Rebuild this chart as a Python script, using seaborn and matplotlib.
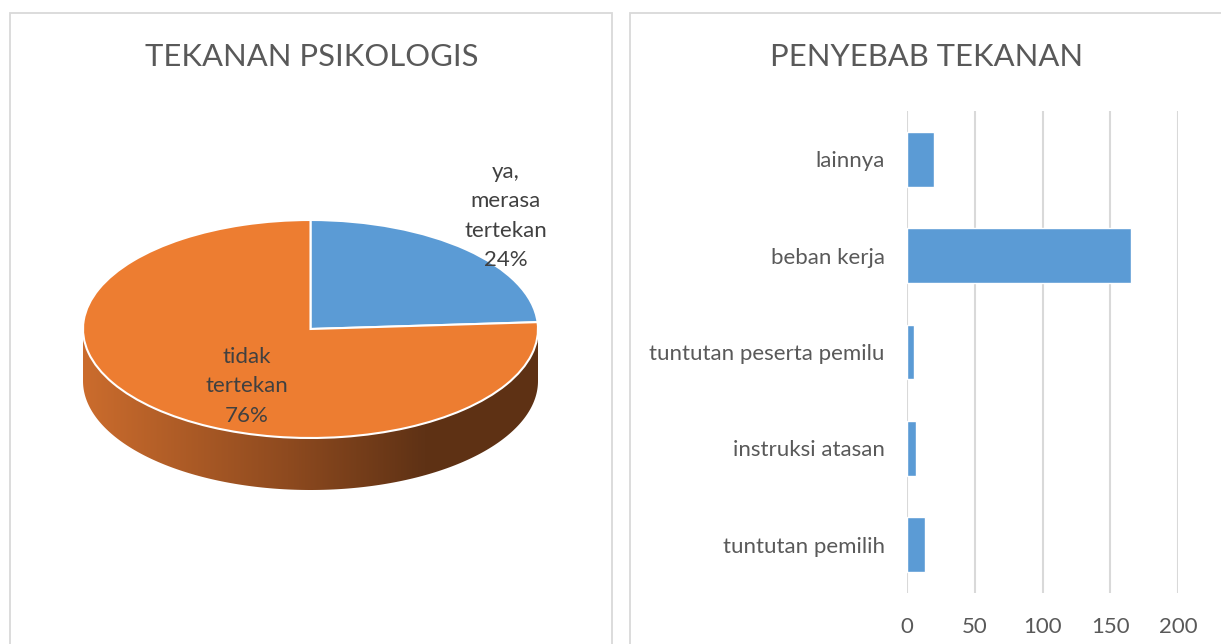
import numpy as np
import matplotlib
matplotlib.use("Agg")
import matplotlib.pyplot as plt
import seaborn as sns
import pandas as pd
from matplotlib.patches import Polygon, Rectangle
from matplotlib.colors import LinearSegmentedColormap

# ---------------- data ----------------
pie_title = "TEKANAN PSIKOLOGIS"
pie_labels = ["ya,\nmerasa\ntertekan", "tidak\ntertekan"]
pie_values = [24, 76]
pie_colors = ["#5b9bd5", "#ed7d31"]

bar_title = "PENYEBAB TEKANAN"
bar_categories = ["lainnya", "beban kerja", "tuntutan peserta pemilu",
                  "instruksi atasan", "tuntutan pemilih"]
bar_values = [20, 165, 5, 7, 13]
bar_ticks = [0, 50, 100, 150, 200]

sns.set_theme(style="white")
plt.rcParams['font.family'] = ['Lato', 'DejaVu Sans']

W, H = 1221, 644
fig = plt.figure(figsize=(W / 100, H / 100), dpi=100)
fig.patch.set_facecolor("white")

# panel borders
border = "#d9d9d9"
fig.patches.append(Rectangle((9.5 / W, -0.05), (612 - 9.5) / W, 1.05 - 12.5 / H,
                             transform=fig.transFigure, fill=False,
                             edgecolor=border, linewidth=1.3))
fig.patches.append(Rectangle((629.5 / W, -0.05), 1.0, 1.05 - 12.5 / H,
                             transform=fig.transFigure, fill=False,
                             edgecolor=border, linewidth=1.3))

# ---------------- pie (pseudo 3D) ----------------
cx, cy, rx, ry, depth_px = 310.5, 329, 227.5, 109, 52
axp = fig.add_axes([0, 0, 620 / W, 1])
wedges, _ = axp.pie(pie_values, startangle=90, counterclock=False,
                    colors=pie_colors, radius=1,
                    wedgeprops=dict(edgecolor="white", linewidth=1.5))
for w in wedges:
    w.set_zorder(3)
axp.set_aspect("auto")
axp.axis("off")

d = depth_px / ry
t = np.linspace(np.pi, 2 * np.pi, 200)
upper = np.column_stack([np.cos(t), np.sin(t)])
lower = np.column_stack([np.cos(t[::-1]), np.sin(t[::-1]) - d])
side = Polygon(np.vstack([upper, lower]), closed=True, facecolor="none",
               edgecolor="none", zorder=1)
axp.add_patch(side)
cmap = LinearSegmentedColormap.from_list(
    "side", [(0, "#cb6c2d"), (0.45, "#8e4a1f"), (0.75, "#5f3215"), (1, "#5e3114")])
grad = np.linspace(0, 1, 256)[None, :]
im = axp.imshow(grad, cmap=cmap, extent=[-1, 1, -1 - d, 0.05], aspect="auto",
                zorder=2, interpolation="bilinear")
im.set_clip_path(side)
axp.set_xlim(-cx / rx, (620 - cx) / rx)
axp.set_ylim(-(H - cy) / ry, cy / ry)

total = sum(pie_values)
label_pos = [((506 - cx) / rx, (cy - 216) / ry), ((247 - cx) / rx, (cy - 386.5) / ry)]
for lab, v, (lx, ly) in zip(pie_labels, pie_values, label_pos):
    axp.text(lx, ly, f"{lab}\n{v / total * 100:.0f}%", ha="center", va="center",
             fontsize=16, color="#404040", linespacing=1.6, zorder=5)

fig.text(312 / W, 1 - 57 / H, pie_title, ha="center", va="center",
         fontsize=22.3, color="#595959")

# ---------------- bar chart ----------------
axb = fig.add_axes([907 / W, 1 - 593 / H, (1178 - 907) / W, (593 - 111) / H])
df = pd.DataFrame({"cat": bar_categories, "val": bar_values})
sns.barplot(data=df, x="val", y="cat", orient="h", color="#5b9bd5",
            saturation=1, width=0.57, ax=axb, zorder=3)
axb.set_xlim(0, 200)
axb.set_ylim(len(bar_categories) - 0.5, -0.5)
axb.set_xticks(bar_ticks)
axb.set_xlabel("")
axb.set_ylabel("")
axb.grid(axis="x", color="#d9d9d9", linewidth=1.5, zorder=0)
axb.set_axisbelow(True)
for s in axb.spines.values():
    s.set_visible(False)
axb.tick_params(axis="both", length=0, labelsize=16, labelcolor="#595959")
axb.tick_params(axis="y", pad=16)
axb.tick_params(axis="x", pad=17)

fig.text(927 / W, 1 - 57 / H, bar_title, ha="center", va="center",
         fontsize=22.3, color="#595959")

fig.savefig("out.png", dpi=100, facecolor="white")
